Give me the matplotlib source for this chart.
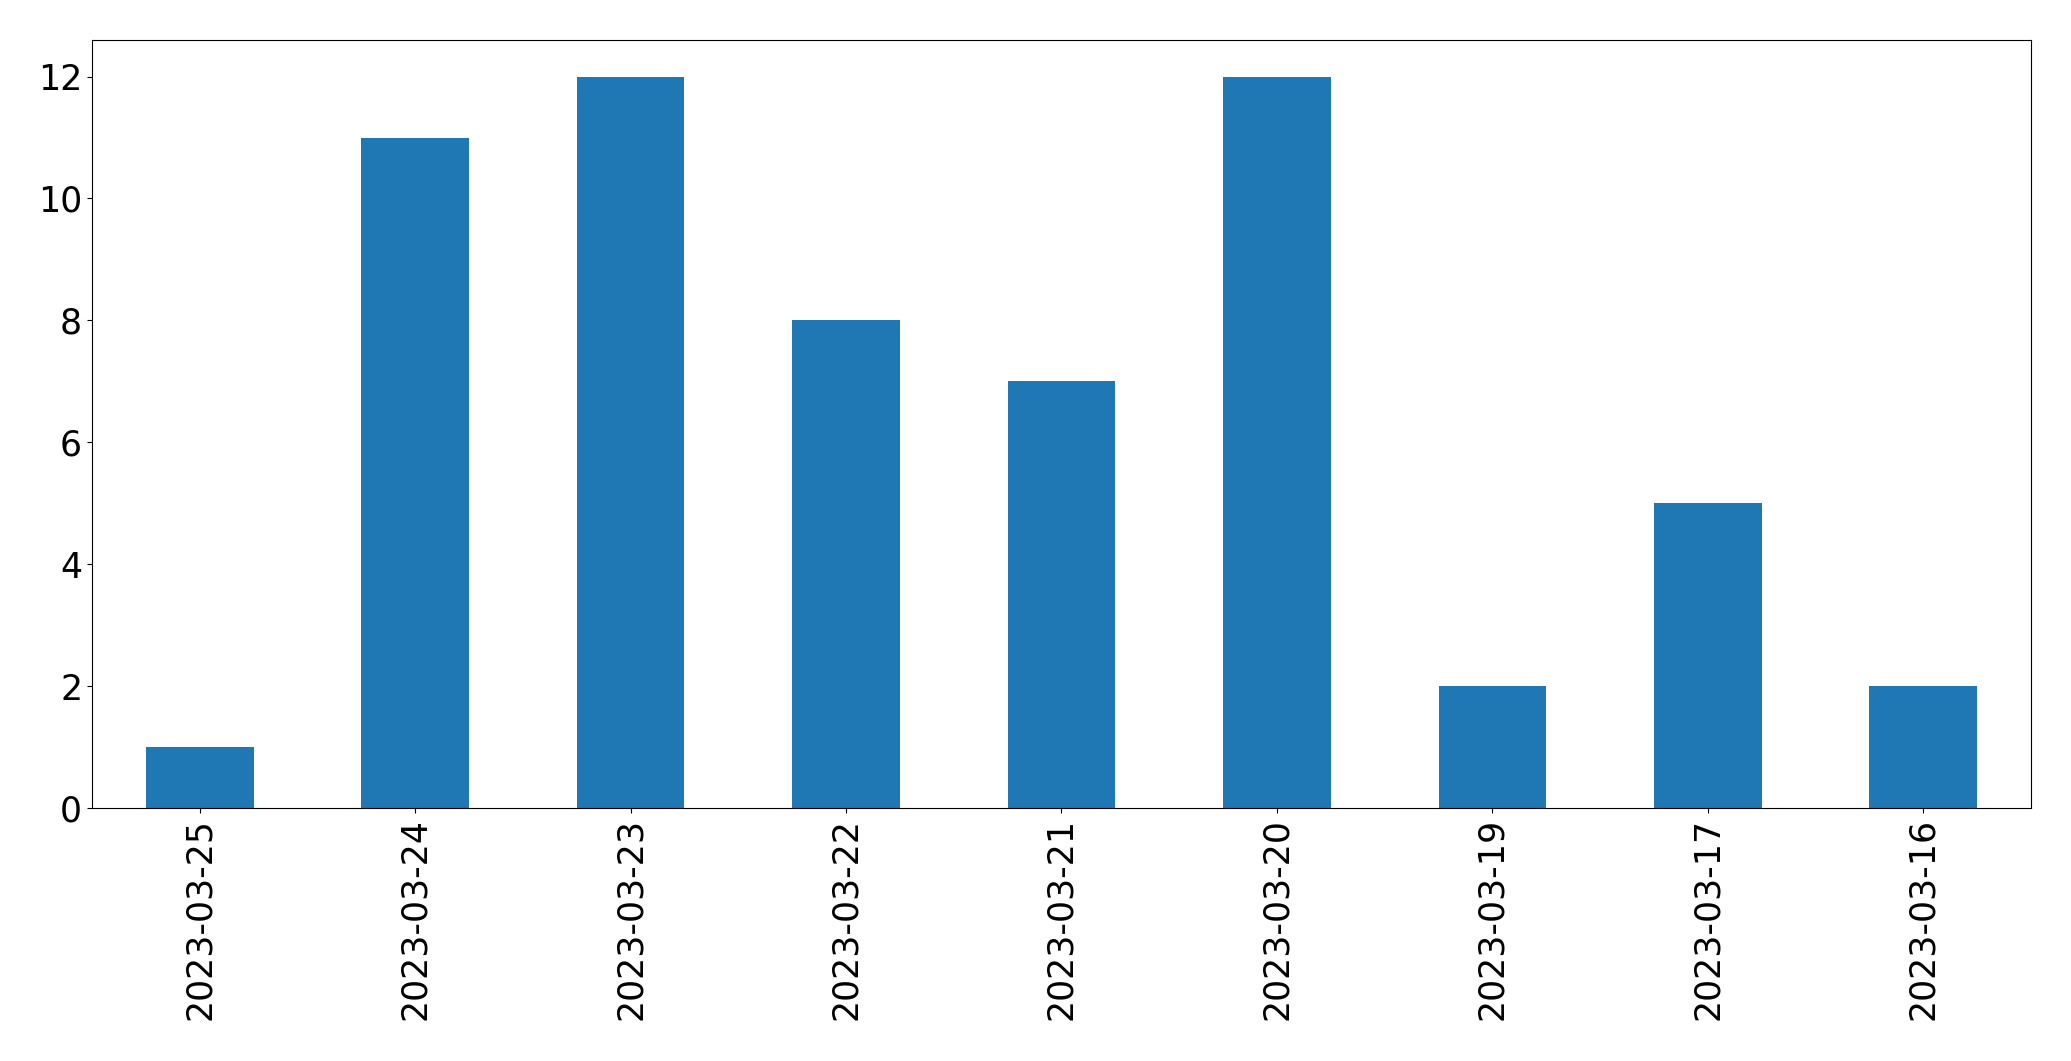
import matplotlib
matplotlib.use("Agg")
import matplotlib.pyplot as plt
import pandas as pd

dates = ["2023-03-25", "2023-03-24", "2023-03-23", "2023-03-22", "2023-03-21",
         "2023-03-20", "2023-03-19", "2023-03-17", "2023-03-16"]
counts = [1, 11, 12, 8, 7, 12, 2, 5, 2]

plt.rcParams['font.size'] = 25

s = pd.Series(counts, index=dates)

fig = plt.figure(figsize=(20.71, 10.61), dpi=100)
ax = fig.add_axes([0.0444, 0.2385, 0.9363, 0.7238])
s.plot(kind="bar", ax=ax, color="#1f77b4")
ax.tick_params(axis="both", labelsize=25)

fig.savefig("out.png", dpi=100)
